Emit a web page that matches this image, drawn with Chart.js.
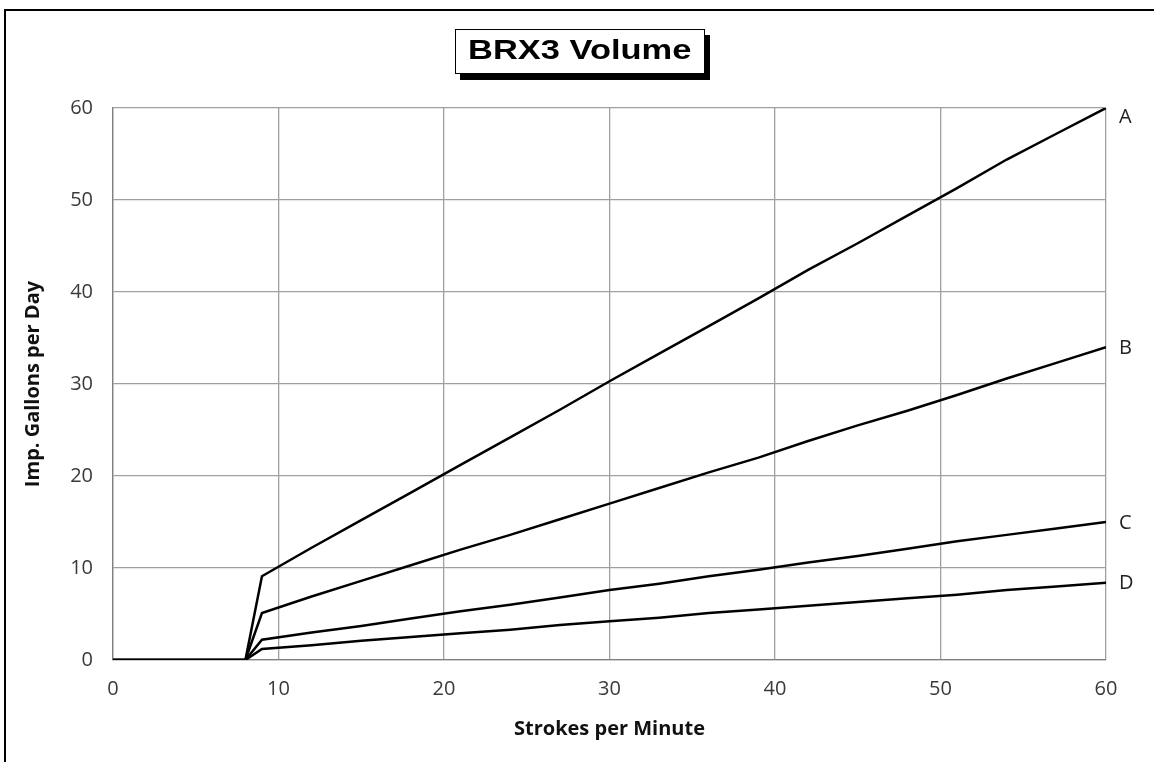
<!DOCTYPE html>
<html>
<head>
<meta charset="utf-8">
<script src="https://cdn.jsdelivr.net/npm/chart.js@4/dist/chart.umd.min.js"></script>
<style>
  body { margin: 0; background: #fff; }
  #wrap { position: relative; width: 1154px; height: 762px; overflow: hidden; }
  #frame { position: absolute; left: 4px; top: 9px; width: 1200px; height: 800px; border: 2.5px solid #000; }
  #title {
    position: absolute; left: 455px; top: 29px; width: 248px; height: 43px;
    border: 1px solid #000; background: #fff; box-shadow: 5px 6px 0 #000;
    text-align: center; line-height: 48px; color: #000;
  }
  #title span { display: inline-block; font: bold 28px "Liberation Sans", Arial, sans-serif; transform: scaleX(1.23); }
  canvas { position: absolute; left: 0; top: 0; }
</style>
</head>
<body>
<div id="wrap">
  <div id="frame"></div>
  <canvas id="myChart" width="1154" height="762"></canvas>
  <div id="title"><span>BRX3 Volume</span></div>
</div>
<script>
var strokes = [0, 8, 9, 12, 15, 18, 21, 24, 27, 30, 33, 36, 39, 42, 45, 48, 51, 54, 57, 60]
var volA = [0, 0, 9.1, 12.2, 15.2, 18.2, 21.2, 24.2, 27.2, 30.3, 33.3, 36.3, 39.3, 42.4, 45.3, 48.3, 51.3, 54.4, 57.2, 60]
var volB = [0, 0, 5.1, 6.9, 8.6, 10.3, 12.0, 13.6, 15.3, 17.0, 18.7, 20.4, 22.0, 23.8, 25.5, 27.1, 28.8, 30.6, 32.3, 34.0]
var volC = [0, 0, 2.2, 3.0, 3.7, 4.5, 5.3, 6.0, 6.8, 7.6, 8.3, 9.1, 9.8, 10.6, 11.3, 12.1, 12.9, 13.6, 14.3, 15.0]
var volD = [0, 0, 1.2, 1.6, 2.1, 2.5, 2.9, 3.3, 3.8, 4.2, 4.6, 5.1, 5.5, 5.9, 6.3, 6.7, 7.1, 7.6, 8.0, 8.4]
var seriesNames = ['A', 'B', 'C', 'D']

function pts(vals) {
    return strokes.map(function (s, i) { return { x: s, y: vals[i] } })
}

// letters at the right end of each line
var endLabels = {
    id: 'endLabels',
    afterDraw: function (chart) {
        var ctx = chart.ctx
        var area = chart.chartArea
        ctx.save()
        ctx.font = '20px "Open Sans", sans-serif'
        ctx.fillStyle = '#222'
        ctx.textBaseline = 'middle'
        chart.data.datasets.forEach(function (ds) {
            var last = ds.data[ds.data.length - 1]
            var y = chart.scales.y.getPixelForValue(last.y)
            if (y < area.top + 8) y = area.top + 8
            ctx.fillText(ds.label, area.right + 13, y + 1)
        })
        ctx.restore()
    }
}

var lineStyle = { borderColor: '#000', borderWidth: 2.5, pointRadius: 0, fill: false, tension: 0 }
var sets = [volA, volB, volC, volD].map(function (v, i) {
    return Object.assign({ label: seriesNames[i], data: pts(v) }, lineStyle)
})

var myChart = document.getElementById("myChart").getContext('2d')
var chart = new Chart(myChart, {
    type: 'line',
    data: { datasets: sets },
    plugins: [endLabels],
    options: {
        responsive: false,
        animation: false,
        layout: { padding: { top: 108, right: 48, left: 0, bottom: 0 } },
        plugins: { legend: { display: false }, tooltip: { enabled: false } },
        scales: {
            x: {
                type: 'linear', min: 0, max: 60,
                afterFit: function (s) { s.height = 102 },
                grid: { color: '#a0a0a0', lineWidth: 1.3, drawTicks: false },
                border: { color: '#808080', width: 1.3 },
                ticks: { stepSize: 10, padding: 17, color: '#3a3a3a', font: { family: 'Open Sans', size: 20 } },
                title: { display: true, text: 'Strokes per Minute', color: '#111', padding: { top: 21, bottom: 21 }, font: { family: 'Open Sans', size: 20, weight: 'bold' } }
            },
            y: {
                min: 0, max: 60,
                afterFit: function (s) { s.width = 113 },
                grid: { color: '#a0a0a0', lineWidth: 1.3, drawTicks: false },
                border: { color: '#808080', width: 1.3 },
                ticks: { stepSize: 10, padding: 20, color: '#3a3a3a', font: { family: 'Open Sans', size: 20 } },
                title: { display: true, text: 'Imp. Gallons per Day', color: '#111', padding: { top: 21 }, font: { family: 'Open Sans', size: 20, weight: 'bold' } }
            }
        }
    }
})
</script>
</body>
</html>
